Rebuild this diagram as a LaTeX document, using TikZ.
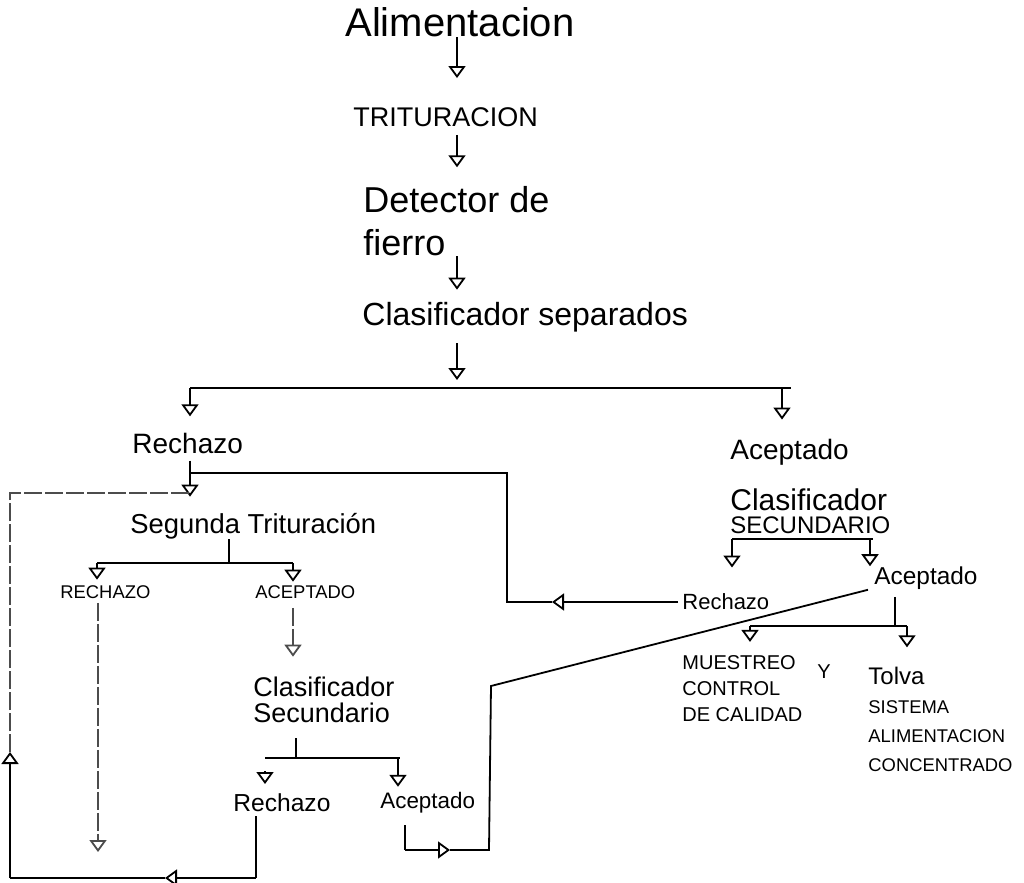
\documentclass[tikz,border=0pt]{standalone}
\usepackage{fontspec}
\setmainfont{Liberation Sans}
\usetikzlibrary{arrows.meta}
\tikzset{%
		linea/.style={draw,line width=.9pt},
		flecha/.style={linea,-{Triangle[open,width=8.5pt,length=6pt]}},
		tenue/.style={linea,black!70,dash pattern=on 9pt off 1.5pt},
		texto/.style={inner sep=0pt,anchor=west,align=left}
	}
\newcommand{\tam}[2]{\fontsize{#1}{#2}\selectfont}

\begin{document}
\begin{tikzpicture}[x=.5pt,y=-.5pt]
      \useasboundingbox (0,0) rectangle (1024,883);
      % linea principal
      \coordinate (eje) at (457,0);
      \node[texto,font=\tam{20}{20}] (alim) at (345,22) {Alimentacion};
      \node[texto,font=\tam{13.5}{14}] (trit) at (353,117) {TRITURACION};
      \node[texto,font=\tam{18}{21.5}] (detec) at (363,221) {Detector de\\fierro};
      \node[texto,font=\tam{16}{16}] (clasif) at (362,317) {Clasificador separados};
      \draw[flecha,shorten >=14.5pt] (alim.south -| eje) -- (trit.north -| eje);
      \draw[flecha,shorten <=4pt,shorten >=9.3pt] (trit.south -| eje) -- (detec.north -| eje);
      \draw[flecha,shorten >=6pt] (detec.south -| eje) -- (clasif.north -| eje);

      \coordinate (div1) at (457,388);
      \coordinate (div1i) at (190,388);
      \coordinate (div1d) at (782,388);
      \draw[flecha,shorten <=5.5pt,shorten >=4pt] (clasif.south -| eje) -- (div1);
      \draw[linea] (div1i) -- ([xshift=4.5pt]div1d);

      % rama rechazo
      \node[texto,font=\tam{14}{14}] (rech1) at (132,443) {Rechazo};
      \node[texto,font=\tam{14}{14}] (acep1) at (730,452) {Aceptado};
      \draw[flecha,shorten >=8pt] (div1i) -- (rech1.north -| div1i);
      \draw[flecha,shorten >=9.5pt] (div1d) -- (acep1.north -| div1d);

      \node[texto,font=\tam{13.7}{14}] (segtrit) at (130,526) {Segunda Trituración};
      \coordinate (r1) at (190,473);
      \coordinate (r2) at (507,473);
      \coordinate (r3) at (507,602);
      \coordinate (r4) at (552,602);
      \draw[flecha,shorten <=3.5pt,shorten >=8pt] (rech1.south -| r1) -- (segtrit.north -| r1);

      \coordinate (d2) at (229,563);
      \coordinate (d2i) at (97,563);
      \coordinate (d2d) at (293,563);
      \draw[linea] (segtrit.south -| d2) -- (d2);
      \draw[linea] (d2i) -- (d2d);
      \node[texto,font=\tam{9.2}{9.2}] (rech2) at (60,592) {RECHAZO};
      \node[texto,font=\tam{9.2}{9.2}] (acep2) at (255,592) {ACEPTADO};
      \draw[flecha,shorten >=2.7pt] (d2i) -- (rech2.north -| d2i);
      \draw[flecha,shorten >=1.7pt] (d2d) -- (acep2.north -| d2d);

      \coordinate (p1) at (98,852);
      \draw[flecha,tenue,shorten <=2pt] (rech2.south -| p1) -- (p1);

      \node[texto,font=\tam{13.5}{13}] (clasif2) at (253,700) {Clasificador\\Secundario};
      \draw[flecha,tenue,shorten <=4.5pt,shorten >=10pt] (acep2.south -| d2d) -- (clasif2.north -| d2d);

      \coordinate (d3) at (296,758);
      \coordinate (d3i) at (265,758);
      \coordinate (d3d) at (398,758);
      \coordinate (t1) at (265,784);
      \draw[linea,shorten <=7.5pt] (clasif2.south -| d3) -- (d3);
      \draw[linea] (d3i) -- ([xshift=1pt]d3d);
      \node[texto,font=\tam{12.3}{12.3}] (rech3) at (233,803) {Rechazo};
      \node[texto,font=\tam{11.2}{11.2}] (acep3) at (380,803) {Aceptado};
      \draw[flecha,shorten >=2.7pt] (d3d) -- (acep3.north -| d3d);
      \draw[flecha] ([yshift=6.5pt]t1) -- (t1);

      % retorno izquierdo
      \coordinate (l1) at (10,493);
      \coordinate (l2) at (190,493);
      \coordinate (l3) at (10,752);
      \coordinate (l4) at (10,878);
      \coordinate (l5) at (165,878);
      \coordinate (l6) at (256,878);
      \draw[linea,shorten <=2pt] (rech3.south -| l6) -- (l6);
      \draw[flecha] (l6) -- (l5);
      \draw[linea] (l5) -- (l4);
      \draw[flecha] (l4) -- (l3);
      \draw[tenue] (l3) -- (l1) -- (l2);

      % rama aceptado
      \node[texto,font=\tam{15}{11.5}] (clasif3) at (730,511) {Clasificador\\{\tam{12}{11.5}SECUNDARIO}};
      \node[texto,font=\tam{11}{11}] (rech4) at (682,602) {Rechazo};
      \node[texto,font=\tam{12.2}{12.2}] (acep4) at (874,578) {Aceptado};
      \coordinate (d4i) at (732,539);
      \coordinate (d4d) at (870,539);
      \draw[linea] (d4i) -- ([xshift=1.5pt]d4d);
      \draw[flecha,shorten >=13pt] (d4i) -- (rech4.north -| d4i);
      \draw[flecha] (d4d) -- (acep4.north -| d4d);

      \draw[flecha,shorten <=2pt] (rech4.west) -- (r4);
      \draw[linea] (r4) -- (r3) -- (r2) -- (r1);

      \coordinate (d5) at (895,626);
      \coordinate (d5i) at (750,626);
      \coordinate (d5d) at (907,626);
      \draw[linea,shorten <=3.5pt] (acep4.south -| d5) -- (d5);
      \draw[linea] (d5i) -- (d5d);
      \node[texto,font=\tam{10}{13}] (muest) at (682,689) {MUESTREO\\CONTROL\\DE CALIDAD};
      \node[texto,font=\tam{10}{10}] (conj) at (817,672) {Y};
      \node[texto,font=\tam{9.2}{14.5}] (tolva) at (868,719) {{\tam{12}{14.5}Tolva}\\SISTEMA\\ALIMENTACION\\CONCENTRADO};
      \draw[flecha,shorten >=6.8pt] (d5i) -- (muest.north -| d5i);
      \draw[flecha,shorten >=9.5pt] (d5d) -- (tolva.north -| d5d);

      % aceptado inferior hacia aceptado final
      \coordinate (n1) at (405,850);
      \coordinate (n2) at (450,850);
      \coordinate (n3) at (489,850);
      \coordinate (n4) at (491,686);
      \draw[linea,shorten <=5.7pt] (acep3.south -| n1) -- (n1);
      \draw[flecha] (n1) -- (n2);
      \draw[linea] (n2) -- (n3) -- (n4) -- ([xshift=-3pt]acep4.south west);
\end{tikzpicture}
\end{document}
